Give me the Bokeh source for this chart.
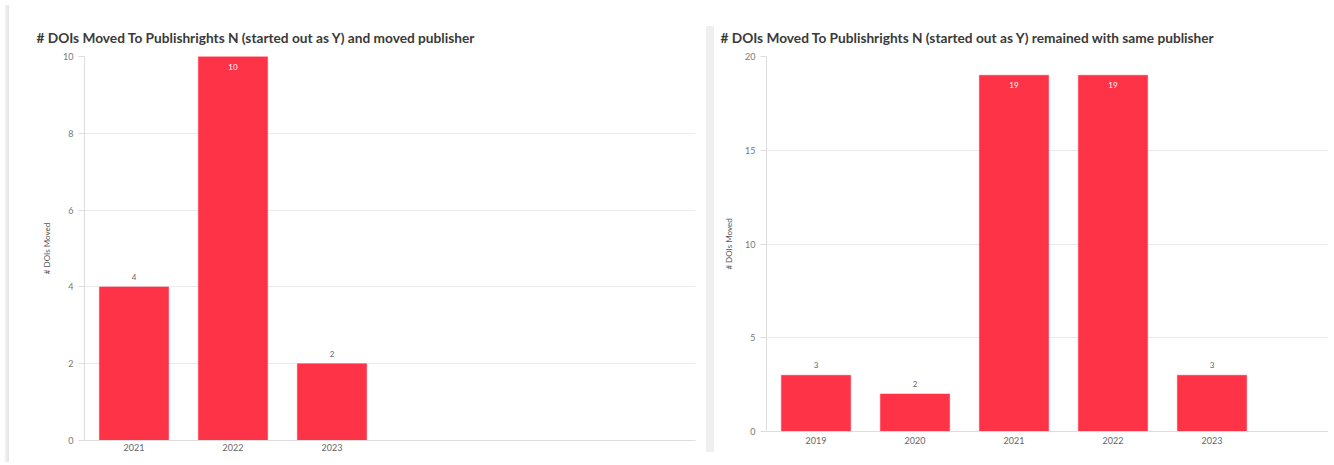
from bokeh.plotting import figure
from bokeh.models import ColumnDataSource, FixedTicker, Range1d, Div
from bokeh.layouts import row
from bokeh.embed import file_html
from bokeh.resources import INLINE
from bokeh.core.properties import value

# ---- data ----
left_title = "# DOIs Moved To Publishrights N (started out as Y) and moved publisher"
left_years = ["2021", "2022", "2023"]
left_counts = [4, 10, 2]
left_yticks = [0, 2, 4, 6, 8, 10]

right_title = "# DOIs Moved To Publishrights N (started out as Y) remained with same publisher"
right_years = ["2019", "2020", "2021", "2022", "2023"]
right_counts = [3, 2, 19, 19, 3]
right_yticks = [0, 5, 10, 15, 20]

y_label = "# DOIs Moved"

BAR = "#ff3347"
FONT = "Lato"
SLOT_PX = 99


def make_chart(title, years, counts, yticks, width, height, bl, br, bt, bb,
               title_offset, x_standoff):
    frame_w = width - bl - br
    xmax = frame_w / SLOT_PX
    ymax = yticks[-1]
    p = figure(width=width, height=height, output_backend="svg", toolbar_location=None,
               x_range=Range1d(0, xmax), y_range=Range1d(0, ymax),
               min_border_left=bl, min_border_right=br, min_border_top=bt,
               min_border_bottom=bb, title=title)
    p.outline_line_color = None
    p.background_fill_color = "white"
    p.border_fill_color = "white"
    p.title.text_font = FONT
    p.title.text_font_size = "13.7px"
    p.title.text_font_style = "bold"
    p.title.text_color = "#3a3a3a"
    p.title.align = "left"
    p.title.offset = title_offset
    p.title.standoff = 21

    xs = [i + 0.5 for i in range(len(years))]
    inside = [c >= 0.9 * ymax for c in counts]
    src = ColumnDataSource(dict(
        x=xs, top=counts, label=[str(c) for c in counts],
        yoff=[10 if f else -10 for f in inside],
        col=["white" if f else "#666666" for f in inside],
    ))
    p.vbar(x="x", top="top", width=0.7, bottom=0, source=src,
           fill_color=BAR, line_color=BAR, line_width=0.5)
    p.text(x="x", y="top", text="label", source=src, y_offset="yoff",
           text_color="col", text_align="center", text_baseline="middle",
           text_font=value(FONT), text_font_size="8px")

    # axes
    p.xaxis.ticker = FixedTicker(ticks=xs)
    p.xaxis.major_label_overrides = {x: y for x, y in zip(xs, years)}
    p.xaxis.major_tick_line_color = None
    p.xaxis.major_tick_out = 0
    p.xaxis.major_tick_in = 0
    p.xaxis.minor_tick_out = 0
    p.xaxis.minor_tick_in = 0
    p.xaxis.minor_tick_line_color = None
    p.xaxis.axis_label_standoff = 0
    p.xaxis.axis_line_color = "#dddddd"
    p.xaxis.major_label_text_font = FONT
    p.xaxis.major_label_text_font_size = "9px"
    p.xaxis.major_label_text_color = "#666666"
    p.xaxis.major_label_standoff = x_standoff

    p.yaxis.ticker = FixedTicker(ticks=yticks)
    p.yaxis.minor_tick_line_color = None
    p.yaxis.major_tick_line_color = "#dddddd"
    p.yaxis.major_tick_out = 6
    p.yaxis.major_tick_in = 0
    p.yaxis.axis_line_color = "#dddddd"
    p.yaxis.major_label_text_font = FONT
    p.yaxis.major_label_text_font_size = "9px"
    p.yaxis.major_label_text_color = "#777777"
    p.yaxis.major_label_standoff = 5
    p.yaxis.axis_label = y_label
    p.yaxis.axis_label_text_font = FONT
    p.yaxis.axis_label_text_font_size = "8px"
    p.yaxis.axis_label_text_font_style = "normal"
    p.yaxis.axis_label_text_color = "#555555"
    p.yaxis.axis_label_standoff = 8

    p.xgrid.grid_line_color = None
    p.ygrid.grid_line_color = "#ebebeb"
    p.ygrid.ticker = FixedTicker(ticks=yticks)
    return p


H = 457
edge = Div(width=4, height=H, styles={"background": "linear-gradient(to right, #f2f2f2, #e4e4e4)"})
left = make_chart(left_title, left_years, left_counts, left_yticks,
                  width=692, height=H, bl=70, br=11, bt=56, bb=17,
                  title_offset=-48, x_standoff=3)
sep = Div(width=8, height=426, margin=(26, 0, 0, 0), styles={"background": "#efefef"})
right = make_chart(right_title, right_years, right_counts, right_yticks,
                   width=614, height=H - 9, bl=52, br=0, bt=56, bb=17,
                   title_offset=-46, x_standoff=5)

layout = row(edge, left, sep, right, spacing=0)
open("out.html", "w").write(file_html(layout, INLINE))
